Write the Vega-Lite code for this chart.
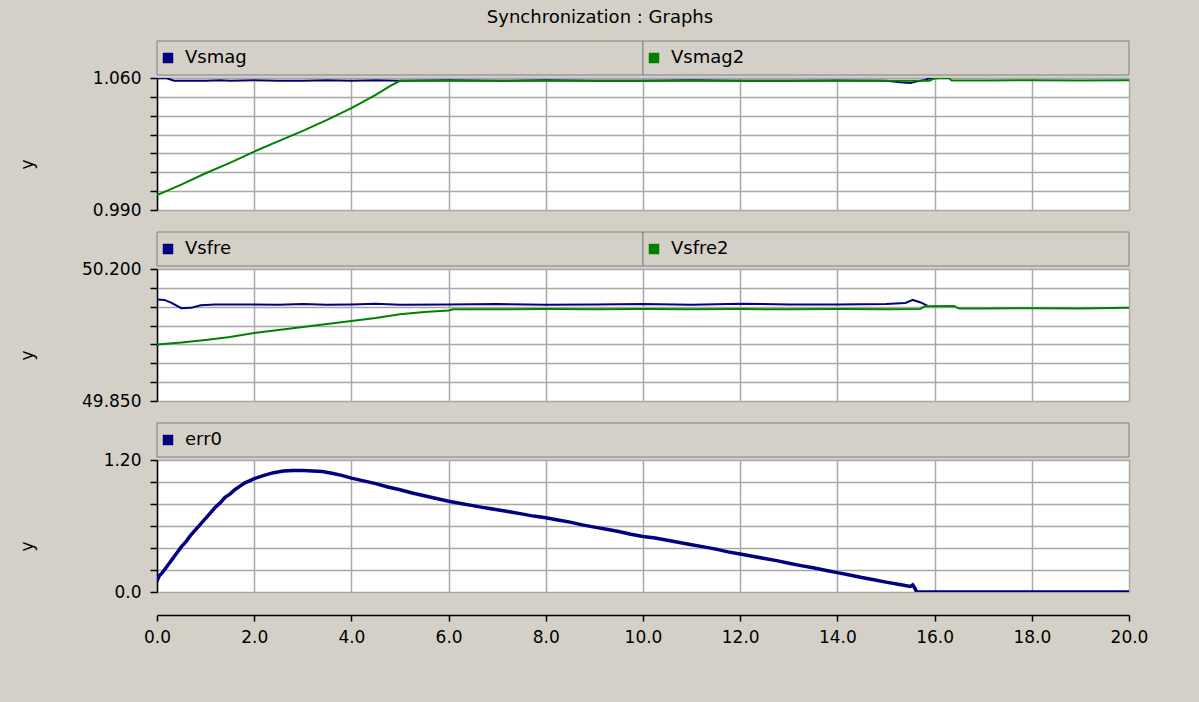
{
  "$schema": "https://vega.github.io/schema/vega-lite/v6.json",
  "background": "#D4D0C8",
  "padding": {"left": 17, "top": 8, "right": 54, "bottom": 57},
  "title": {"text": "Synchronization : Graphs", "anchor": "middle", "frame": "group", "fontSize": 18, "fontWeight": "normal", "font": "DejaVu Sans", "color": "#000000", "offset": 14, "dx": -43},
  "config": {
    "font": "DejaVu Sans",
    "view": {"stroke": null},
    "axis": {
      "labelFont": "DejaVu Sans", "labelFontSize": 17, "labelColor": "#000000",
      "titleFont": "DejaVu Sans", "titleFontSize": 17, "titleFontWeight": "normal", "titleColor": "#000000",
      "gridColor": "#A8A8A8", "gridWidth": 1.5, "gridOpacity": 1,
      "tickColor": "#000000", "domainColor": "#000000", "domainWidth": 1.5, "tickWidth": 1.5,
      "labelFlush": false, "labelOverlap": false
    }
  },
  "datasets": {
    "tabs": [
      {"panel": "mag", "series": "Vsmag", "start": 0, "end": 10},
      {"panel": "mag", "series": "Vsmag2", "start": 10, "end": 20},
      {"panel": "fre", "series": "Vsfre", "start": 0, "end": 10},
      {"panel": "fre", "series": "Vsfre2", "start": 10, "end": 20},
      {"panel": "err", "series": "err0", "start": 0, "end": 20}
    ],
    "mag": [
      {"series": "Vsmag", "t": 0, "v": 1.0599}, {"series": "Vsmag", "t": 0.2, "v": 1.0599}, {"series": "Vsmag", "t": 0.35, "v": 1.0586},
      {"series": "Vsmag", "t": 0.5, "v": 1.0585}, {"series": "Vsmag", "t": 1.0, "v": 1.0585}, {"series": "Vsmag", "t": 1.3, "v": 1.0588},
      {"series": "Vsmag", "t": 1.5, "v": 1.0586}, {"series": "Vsmag", "t": 2.0, "v": 1.0588}, {"series": "Vsmag", "t": 2.5, "v": 1.0586},
      {"series": "Vsmag", "t": 3.0, "v": 1.0585}, {"series": "Vsmag", "t": 3.5, "v": 1.0588}, {"series": "Vsmag", "t": 4.0, "v": 1.0585},
      {"series": "Vsmag", "t": 4.5, "v": 1.0588}, {"series": "Vsmag", "t": 5.0, "v": 1.0586}, {"series": "Vsmag", "t": 6.0, "v": 1.0588},
      {"series": "Vsmag", "t": 7.0, "v": 1.0585}, {"series": "Vsmag", "t": 8.0, "v": 1.0588}, {"series": "Vsmag", "t": 9.0, "v": 1.0586},
      {"series": "Vsmag", "t": 10.0, "v": 1.0585}, {"series": "Vsmag", "t": 11.0, "v": 1.0588}, {"series": "Vsmag", "t": 12.0, "v": 1.0586},
      {"series": "Vsmag", "t": 13.0, "v": 1.0585}, {"series": "Vsmag", "t": 14.0, "v": 1.0587}, {"series": "Vsmag", "t": 15.0, "v": 1.0585},
      {"series": "Vsmag", "t": 15.3, "v": 1.0578}, {"series": "Vsmag", "t": 15.5, "v": 1.0573}, {"series": "Vsmag", "t": 15.6, "v": 1.0580},
      {"series": "Vsmag", "t": 15.8, "v": 1.0590}, {"series": "Vsmag", "t": 15.9, "v": 1.0599}, {"series": "Vsmag", "t": 16.05, "v": 1.0599},
      {"series": "Vsmag2", "t": 0, "v": 0.9979}, {"series": "Vsmag2", "t": 0.5, "v": 1.0035}, {"series": "Vsmag2", "t": 1.0, "v": 1.0095},
      {"series": "Vsmag2", "t": 1.5, "v": 1.0150}, {"series": "Vsmag2", "t": 2.0, "v": 1.0210}, {"series": "Vsmag2", "t": 2.5, "v": 1.0265},
      {"series": "Vsmag2", "t": 3.0, "v": 1.0320}, {"series": "Vsmag2", "t": 3.5, "v": 1.0378}, {"series": "Vsmag2", "t": 4.0, "v": 1.0440},
      {"series": "Vsmag2", "t": 4.5, "v": 1.0510}, {"series": "Vsmag2", "t": 4.8, "v": 1.0558}, {"series": "Vsmag2", "t": 5.0, "v": 1.0585},
      {"series": "Vsmag2", "t": 6.0, "v": 1.0586}, {"series": "Vsmag2", "t": 8.0, "v": 1.0585}, {"series": "Vsmag2", "t": 10.0, "v": 1.0586},
      {"series": "Vsmag2", "t": 12.0, "v": 1.0585}, {"series": "Vsmag2", "t": 14.0, "v": 1.0586}, {"series": "Vsmag2", "t": 15.9, "v": 1.0586},
      {"series": "Vsmag2", "t": 16.0, "v": 1.0599}, {"series": "Vsmag2", "t": 16.3, "v": 1.0599}, {"series": "Vsmag2", "t": 16.35, "v": 1.0587},
      {"series": "Vsmag2", "t": 17.0, "v": 1.0587}, {"series": "Vsmag2", "t": 18.0, "v": 1.0588}, {"series": "Vsmag2", "t": 19.0, "v": 1.0587},
      {"series": "Vsmag2", "t": 20.0, "v": 1.0588}
    ],
    "fre": [
      {"series": "Vsfre", "t": 0, "v": 50.119}, {"series": "Vsfre", "t": 0.15, "v": 50.118}, {"series": "Vsfre", "t": 0.3, "v": 50.110},
      {"series": "Vsfre", "t": 0.5, "v": 50.096}, {"series": "Vsfre", "t": 0.7, "v": 50.097}, {"series": "Vsfre", "t": 0.9, "v": 50.104},
      {"series": "Vsfre", "t": 1.2, "v": 50.106}, {"series": "Vsfre", "t": 2.0, "v": 50.106}, {"series": "Vsfre", "t": 2.5, "v": 50.105},
      {"series": "Vsfre", "t": 3.0, "v": 50.107}, {"series": "Vsfre", "t": 3.5, "v": 50.105}, {"series": "Vsfre", "t": 4.0, "v": 50.106},
      {"series": "Vsfre", "t": 4.5, "v": 50.108}, {"series": "Vsfre", "t": 5.0, "v": 50.105}, {"series": "Vsfre", "t": 6.0, "v": 50.106},
      {"series": "Vsfre", "t": 7.0, "v": 50.107}, {"series": "Vsfre", "t": 8.0, "v": 50.105}, {"series": "Vsfre", "t": 9.0, "v": 50.106},
      {"series": "Vsfre", "t": 10.0, "v": 50.107}, {"series": "Vsfre", "t": 11.0, "v": 50.105}, {"series": "Vsfre", "t": 12.0, "v": 50.108},
      {"series": "Vsfre", "t": 13.0, "v": 50.106}, {"series": "Vsfre", "t": 14.0, "v": 50.106}, {"series": "Vsfre", "t": 15.0, "v": 50.107},
      {"series": "Vsfre", "t": 15.4, "v": 50.110}, {"series": "Vsfre", "t": 15.55, "v": 50.118}, {"series": "Vsfre", "t": 15.7, "v": 50.112},
      {"series": "Vsfre", "t": 15.85, "v": 50.103},
      {"series": "Vsfre2", "t": 0, "v": 50.000}, {"series": "Vsfre2", "t": 0.5, "v": 50.005}, {"series": "Vsfre2", "t": 1.0, "v": 50.012},
      {"series": "Vsfre2", "t": 1.5, "v": 50.020}, {"series": "Vsfre2", "t": 2.0, "v": 50.030}, {"series": "Vsfre2", "t": 2.5, "v": 50.038},
      {"series": "Vsfre2", "t": 3.0, "v": 50.046}, {"series": "Vsfre2", "t": 3.5, "v": 50.054}, {"series": "Vsfre2", "t": 4.0, "v": 50.062},
      {"series": "Vsfre2", "t": 4.5, "v": 50.070}, {"series": "Vsfre2", "t": 5.0, "v": 50.080}, {"series": "Vsfre2", "t": 5.5, "v": 50.086},
      {"series": "Vsfre2", "t": 6.0, "v": 50.090}, {"series": "Vsfre2", "t": 6.1, "v": 50.093}, {"series": "Vsfre2", "t": 7.0, "v": 50.093},
      {"series": "Vsfre2", "t": 8.0, "v": 50.094}, {"series": "Vsfre2", "t": 9.0, "v": 50.093}, {"series": "Vsfre2", "t": 10.0, "v": 50.094},
      {"series": "Vsfre2", "t": 11.0, "v": 50.093}, {"series": "Vsfre2", "t": 12.0, "v": 50.094}, {"series": "Vsfre2", "t": 13.0, "v": 50.093},
      {"series": "Vsfre2", "t": 14.0, "v": 50.094}, {"series": "Vsfre2", "t": 15.0, "v": 50.093}, {"series": "Vsfre2", "t": 15.7, "v": 50.094},
      {"series": "Vsfre2", "t": 15.8, "v": 50.101}, {"series": "Vsfre2", "t": 16.4, "v": 50.102}, {"series": "Vsfre2", "t": 16.5, "v": 50.095},
      {"series": "Vsfre2", "t": 17.0, "v": 50.095}, {"series": "Vsfre2", "t": 18.0, "v": 50.096}, {"series": "Vsfre2", "t": 19.0, "v": 50.095},
      {"series": "Vsfre2", "t": 20.0, "v": 50.097}
    ],
    "err": [
      {"series": "err0", "t": 0, "v": 0.10}, {"series": "err0", "t": 0.05, "v": 0.15}, {"series": "err0", "t": 0.1, "v": 0.17},
      {"series": "err0", "t": 0.2, "v": 0.23}, {"series": "err0", "t": 0.3, "v": 0.29}, {"series": "err0", "t": 0.4, "v": 0.35},
      {"series": "err0", "t": 0.5, "v": 0.41}, {"series": "err0", "t": 0.6, "v": 0.46}, {"series": "err0", "t": 0.7, "v": 0.52},
      {"series": "err0", "t": 0.8, "v": 0.57}, {"series": "err0", "t": 0.9, "v": 0.62}, {"series": "err0", "t": 1.0, "v": 0.67},
      {"series": "err0", "t": 1.1, "v": 0.72}, {"series": "err0", "t": 1.2, "v": 0.77}, {"series": "err0", "t": 1.3, "v": 0.81},
      {"series": "err0", "t": 1.4, "v": 0.86}, {"series": "err0", "t": 1.5, "v": 0.89}, {"series": "err0", "t": 1.6, "v": 0.93},
      {"series": "err0", "t": 1.7, "v": 0.96}, {"series": "err0", "t": 1.8, "v": 0.99}, {"series": "err0", "t": 1.9, "v": 1.01},
      {"series": "err0", "t": 2.0, "v": 1.03}, {"series": "err0", "t": 2.2, "v": 1.06}, {"series": "err0", "t": 2.4, "v": 1.085},
      {"series": "err0", "t": 2.6, "v": 1.10}, {"series": "err0", "t": 2.8, "v": 1.105}, {"series": "err0", "t": 3.0, "v": 1.105},
      {"series": "err0", "t": 3.2, "v": 1.10}, {"series": "err0", "t": 3.4, "v": 1.095}, {"series": "err0", "t": 3.6, "v": 1.08},
      {"series": "err0", "t": 3.8, "v": 1.06}, {"series": "err0", "t": 4.0, "v": 1.035}, {"series": "err0", "t": 4.25, "v": 1.01},
      {"series": "err0", "t": 4.5, "v": 0.985}, {"series": "err0", "t": 4.75, "v": 0.955}, {"series": "err0", "t": 5.0, "v": 0.93},
      {"series": "err0", "t": 5.25, "v": 0.90}, {"series": "err0", "t": 5.5, "v": 0.875}, {"series": "err0", "t": 5.75, "v": 0.85},
      {"series": "err0", "t": 6.0, "v": 0.825}, {"series": "err0", "t": 6.25, "v": 0.805}, {"series": "err0", "t": 6.5, "v": 0.785},
      {"series": "err0", "t": 6.75, "v": 0.765}, {"series": "err0", "t": 7.0, "v": 0.748}, {"series": "err0", "t": 7.25, "v": 0.73},
      {"series": "err0", "t": 7.5, "v": 0.71}, {"series": "err0", "t": 7.75, "v": 0.69}, {"series": "err0", "t": 8.0, "v": 0.675},
      {"series": "err0", "t": 8.25, "v": 0.655}, {"series": "err0", "t": 8.5, "v": 0.635}, {"series": "err0", "t": 8.75, "v": 0.61},
      {"series": "err0", "t": 9.0, "v": 0.59}, {"series": "err0", "t": 9.25, "v": 0.57}, {"series": "err0", "t": 9.5, "v": 0.55},
      {"series": "err0", "t": 9.75, "v": 0.525}, {"series": "err0", "t": 10.0, "v": 0.505}, {"series": "err0", "t": 10.25, "v": 0.49},
      {"series": "err0", "t": 10.5, "v": 0.47}, {"series": "err0", "t": 10.75, "v": 0.45}, {"series": "err0", "t": 11.0, "v": 0.43},
      {"series": "err0", "t": 11.25, "v": 0.41}, {"series": "err0", "t": 11.5, "v": 0.39}, {"series": "err0", "t": 11.75, "v": 0.365},
      {"series": "err0", "t": 12.0, "v": 0.345}, {"series": "err0", "t": 12.25, "v": 0.325}, {"series": "err0", "t": 12.5, "v": 0.305},
      {"series": "err0", "t": 12.75, "v": 0.285}, {"series": "err0", "t": 13.0, "v": 0.262}, {"series": "err0", "t": 13.25, "v": 0.24},
      {"series": "err0", "t": 13.5, "v": 0.22}, {"series": "err0", "t": 13.75, "v": 0.198}, {"series": "err0", "t": 14.0, "v": 0.176},
      {"series": "err0", "t": 14.25, "v": 0.155}, {"series": "err0", "t": 14.5, "v": 0.132}, {"series": "err0", "t": 14.75, "v": 0.112},
      {"series": "err0", "t": 15.0, "v": 0.09}, {"series": "err0", "t": 15.25, "v": 0.07}, {"series": "err0", "t": 15.5, "v": 0.05},
      {"series": "err0", "t": 15.55, "v": 0.065}, {"series": "err0", "t": 15.6, "v": 0.03}, {"series": "err0", "t": 15.63, "v": 0.0},
      {"series": "err0", "t": 20.0, "v": 0.0}
    ]
  },
  "spacing": 12,
  "vconcat": [
    {
      "spacing": 3,
      "bounds": "flush",
      "vconcat": [
        {
          "width": 972, "height": 34,
          "data": {"name": "tabs"},
          "transform": [{"filter": "datum.panel == 'mag'"}],
          "encoding": {"x": {"field": "start", "type": "quantitative", "scale": {"domain": [0, 20], "nice": false}, "axis": null}},
          "layer": [
            {"mark": {"type": "rect", "fill": "#D4D0C8", "stroke": "#808080", "strokeWidth": 1}, "encoding": {"x2": {"field": "end"}}},
            {"mark": {"type": "square", "size": 110, "xOffset": 11, "opacity": 1}, "encoding": {"color": {"field": "series", "type": "nominal", "scale": {"domain": ["Vsmag", "Vsmag2", "Vsfre", "Vsfre2", "err0"], "range": ["#000080", "#008000", "#000080", "#008000", "#000080"]}, "legend": null}}},
            {"mark": {"type": "text", "align": "left", "baseline": "middle", "dx": 28, "fontSize": 18, "color": "#000000"}, "encoding": {"text": {"field": "series"}}}
          ]
        },
        {
          "width": 972, "height": 132,
          "view": {"fill": "#FFFFFF", "stroke": "#A0A0A0"},
          "data": {"name": "mag"},
          "mark": {"type": "line", "strokeWidth": 2, "clip": true},
          "encoding": {
            "x": {"field": "t", "type": "quantitative", "scale": {"domain": [0, 20], "nice": false}, "axis": {"values": [0, 2, 4, 6, 8, 10, 12, 14, 16, 18, 20], "labels": false, "ticks": false, "domain": false, "title": null}},
            "y": {"field": "v", "type": "quantitative", "scale": {"domain": [0.99, 1.06], "nice": false, "zero": false}, "axis": {"title": "y", "titleX": -130, "titleY": 86, "titleBaseline": "middle", "values": [0.99, 1.0, 1.01, 1.02, 1.03, 1.04, 1.05, 1.06], "tickSize": 7, "labelPadding": 9, "labelExpr": "abs(datum.value-1.06)<1e-6 || abs(datum.value-0.99)<1e-6 ? format(datum.value, '.3f') : ''"}},
            "color": {"field": "series", "type": "nominal", "scale": {"domain": ["Vsmag", "Vsmag2", "Vsfre", "Vsfre2", "err0"], "range": ["#000080", "#008000", "#000080", "#008000", "#000080"]}, "legend": null}
          }
        }
      ]
    },
    {
      "spacing": 3,
      "bounds": "flush",
      "vconcat": [
        {
          "width": 972, "height": 34,
          "data": {"name": "tabs"},
          "transform": [{"filter": "datum.panel == 'fre'"}],
          "encoding": {"x": {"field": "start", "type": "quantitative", "scale": {"domain": [0, 20], "nice": false}, "axis": null}},
          "layer": [
            {"mark": {"type": "rect", "fill": "#D4D0C8", "stroke": "#808080", "strokeWidth": 1}, "encoding": {"x2": {"field": "end"}}},
            {"mark": {"type": "square", "size": 110, "xOffset": 11, "opacity": 1}, "encoding": {"color": {"field": "series", "type": "nominal", "scale": {"domain": ["Vsmag", "Vsmag2", "Vsfre", "Vsfre2", "err0"], "range": ["#000080", "#008000", "#000080", "#008000", "#000080"]}, "legend": null}}},
            {"mark": {"type": "text", "align": "left", "baseline": "middle", "dx": 28, "fontSize": 18, "color": "#000000"}, "encoding": {"text": {"field": "series"}}}
          ]
        },
        {
          "width": 972, "height": 132,
          "view": {"fill": "#FFFFFF", "stroke": "#A0A0A0"},
          "data": {"name": "fre"},
          "mark": {"type": "line", "strokeWidth": 2, "clip": true},
          "encoding": {
            "x": {"field": "t", "type": "quantitative", "scale": {"domain": [0, 20], "nice": false}, "axis": {"values": [0, 2, 4, 6, 8, 10, 12, 14, 16, 18, 20], "labels": false, "ticks": false, "domain": false, "title": null}},
            "y": {"field": "v", "type": "quantitative", "scale": {"domain": [49.85, 50.2], "nice": false, "zero": false}, "axis": {"title": "y", "titleX": -130, "titleY": 86, "titleBaseline": "middle", "values": [49.85, 49.9, 49.95, 50.0, 50.05, 50.1, 50.15, 50.2], "tickSize": 7, "labelPadding": 9, "labelExpr": "abs(datum.value-50.2)<1e-6 || abs(datum.value-49.85)<1e-6 ? format(datum.value, '.3f') : ''"}},
            "color": {"field": "series", "type": "nominal", "scale": {"domain": ["Vsmag", "Vsmag2", "Vsfre", "Vsfre2", "err0"], "range": ["#000080", "#008000", "#000080", "#008000", "#000080"]}, "legend": null}
          }
        }
      ]
    },
    {
      "spacing": 3,
      "bounds": "flush",
      "vconcat": [
        {
          "width": 972, "height": 34,
          "data": {"name": "tabs"},
          "transform": [{"filter": "datum.panel == 'err'"}],
          "encoding": {"x": {"field": "start", "type": "quantitative", "scale": {"domain": [0, 20], "nice": false}, "axis": null}},
          "layer": [
            {"mark": {"type": "rect", "fill": "#D4D0C8", "stroke": "#808080", "strokeWidth": 1}, "encoding": {"x2": {"field": "end"}}},
            {"mark": {"type": "square", "size": 110, "xOffset": 11, "opacity": 1}, "encoding": {"color": {"field": "series", "type": "nominal", "scale": {"domain": ["Vsmag", "Vsmag2", "Vsfre", "Vsfre2", "err0"], "range": ["#000080", "#008000", "#000080", "#008000", "#000080"]}, "legend": null}}},
            {"mark": {"type": "text", "align": "left", "baseline": "middle", "dx": 28, "fontSize": 18, "color": "#000000"}, "encoding": {"text": {"field": "series"}}}
          ]
        },
        {
          "width": 972, "height": 132,
          "view": {"fill": "#FFFFFF", "stroke": "#A0A0A0"},
          "data": {"name": "err"},
          "mark": {"type": "line", "strokeWidth": 3.5, "clip": true},
          "encoding": {
            "x": {"field": "t", "type": "quantitative", "scale": {"domain": [0, 20], "nice": false}, "axis": {"values": [0, 2, 4, 6, 8, 10, 12, 14, 16, 18, 20], "format": ".1f", "offset": 23, "tickSize": 6, "labelPadding": 8, "title": null}},
            "y": {"field": "v", "type": "quantitative", "scale": {"domain": [0, 1.2], "nice": false, "zero": false}, "axis": {"title": "y", "titleX": -130, "titleY": 86, "titleBaseline": "middle", "values": [0, 0.2, 0.4, 0.6, 0.8, 1.0, 1.2], "tickSize": 7, "labelPadding": 9, "labelExpr": "datum.value > 1.19 ? format(datum.value, '.2f') : (datum.value < 0.01 ? format(datum.value, '.1f') : '')"}},
            "color": {"field": "series", "type": "nominal", "scale": {"domain": ["Vsmag", "Vsmag2", "Vsfre", "Vsfre2", "err0"], "range": ["#000080", "#008000", "#000080", "#008000", "#000080"]}, "legend": null}
          }
        }
      ]
    }
  ]
}
